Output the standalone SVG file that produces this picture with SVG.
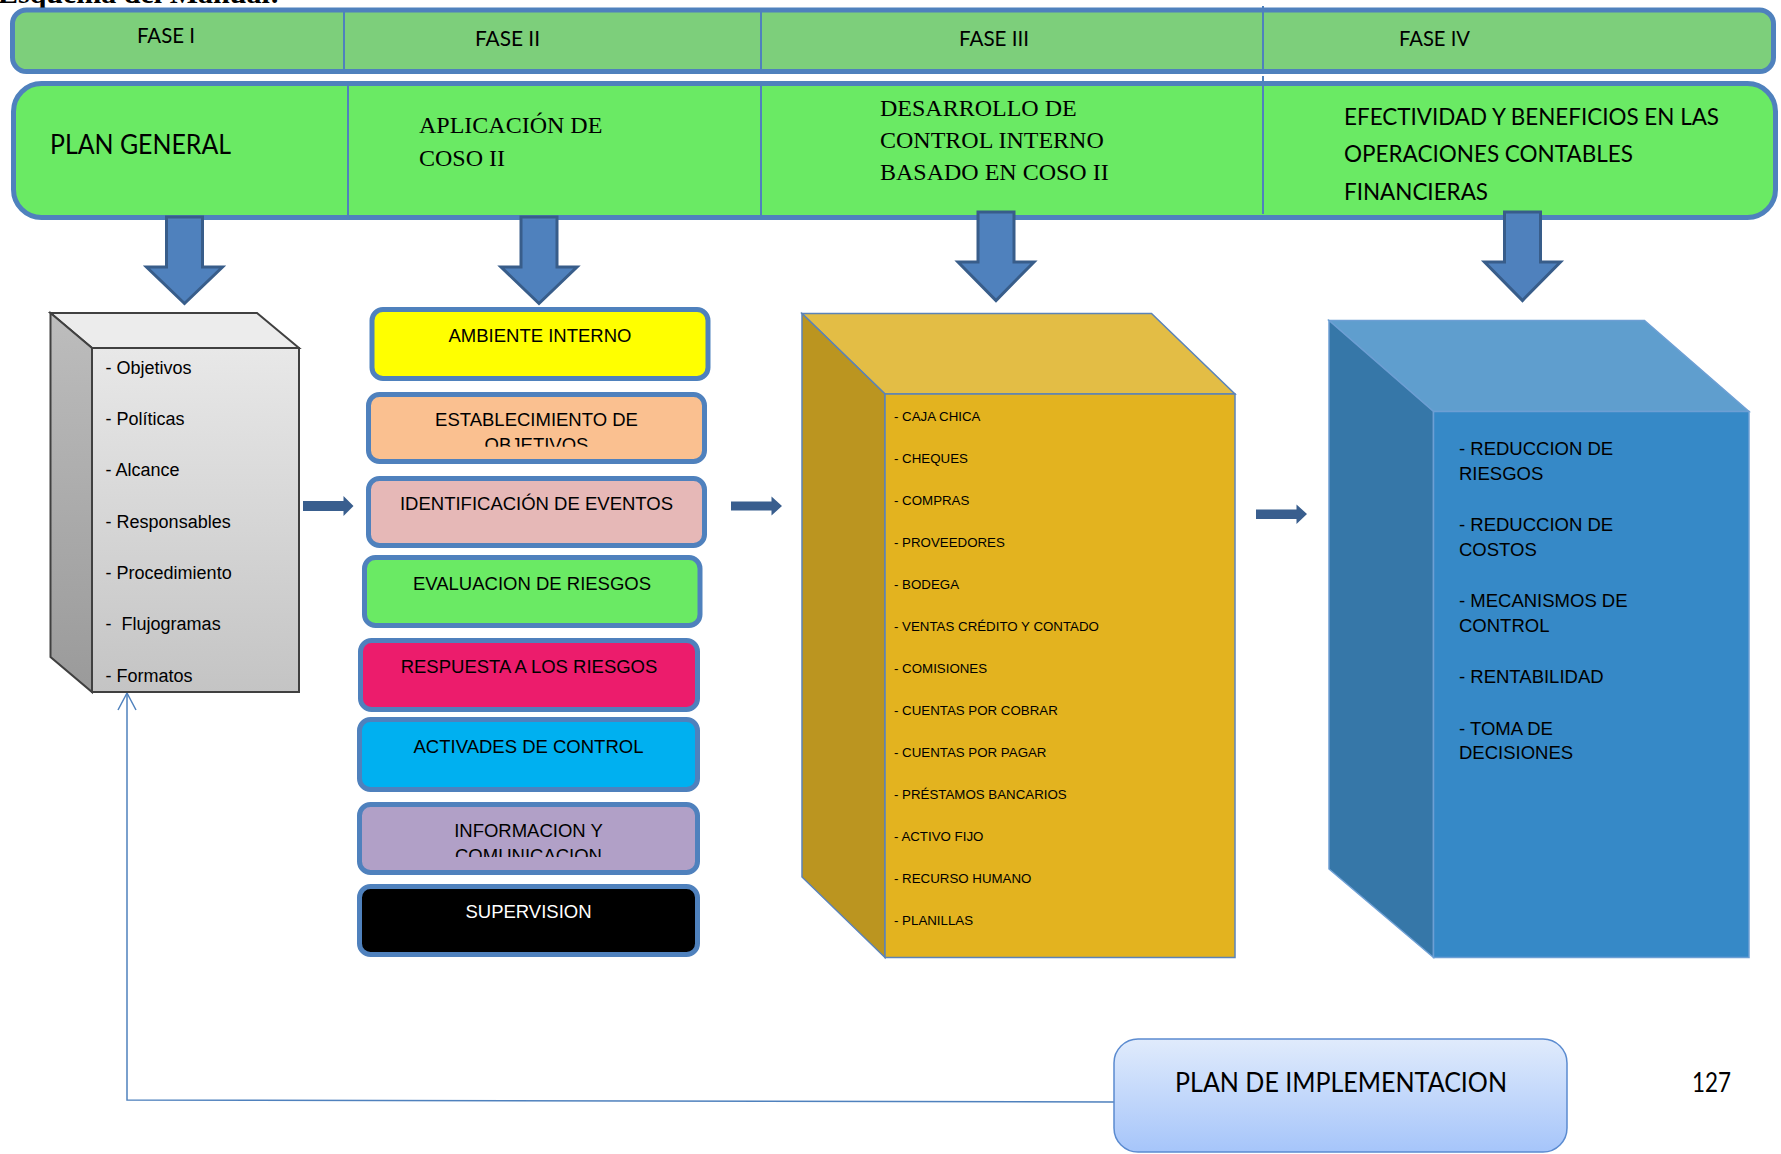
<svg xmlns="http://www.w3.org/2000/svg" width="1781" height="1154" viewBox="0 0 1781 1154">
<style>
.cal{font-family:Lato,"Open Sans",sans-serif;fill:#000}
.tnr{font-family:"Liberation Serif","Times New Roman",serif;fill:#000}
.ar{font-family:"Liberation Sans",Arial,sans-serif;fill:#000}
.bar{stroke:#4f81bd;stroke-width:5}
.div{stroke:#4f81bd;stroke-width:2}
.dn{fill:#4f81bd;stroke:#385d8a;stroke-width:3;stroke-linejoin:miter}
.rt{fill:#395e8e}
.cb{stroke:#4f81bd;stroke-width:5}
.ct{font-family:"Liberation Sans",Arial,sans-serif;font-size:18.5px;text-anchor:middle;fill:#000}
.gi{font-family:"Liberation Sans",Arial,sans-serif;font-size:18px;fill:#000}
.yi{font-family:"Liberation Sans",Arial,sans-serif;font-size:13.3px;fill:#000}
.bi{font-family:"Liberation Sans",Arial,sans-serif;font-size:18.5px;fill:#000}
</style>
<defs>
<linearGradient id="gFront" x1="0" y1="0" x2="0" y2="1"><stop offset="0" stop-color="#e8e8e8"/><stop offset="1" stop-color="#c4c4c4"/></linearGradient>
<linearGradient id="gSide" x1="0" y1="0" x2="0" y2="1"><stop offset="0" stop-color="#bdbdbd"/><stop offset="1" stop-color="#9a9a9a"/></linearGradient>
<linearGradient id="gPlan" x1="0" y1="0" x2="0" y2="1"><stop offset="0" stop-color="#e0ebfc"/><stop offset="1" stop-color="#a6c5fa"/></linearGradient>
<marker id="open" markerUnits="userSpaceOnUse" markerWidth="22" markerHeight="22" viewBox="-19 -11 22 22" refX="0" refY="0" orient="auto"><path d="M-17,-9 L0,0 L-17,9" fill="none" stroke="#4f81bd" stroke-width="1.5"/></marker>
<clipPath id="clip2"><rect x="366" y="392" width="341" height="54.7"/></clipPath>
<clipPath id="clip7"><rect x="357" y="802" width="343" height="55"/></clipPath>
</defs>

<text class="tnr" x="-2" y="3" font-size="30" font-weight="bold">Esquema del Manual:</text>

<g id="phase-header">
<rect class="bar" x="12.5" y="10" width="1761" height="61.5" rx="14" fill="#7dcf7b"/>
<line class="div" x1="344" y1="12" x2="344" y2="70"/>
<line class="div" x1="761" y1="12" x2="761" y2="70"/>
<line class="div" x1="1263" y1="6" x2="1263" y2="70"/>
<text class="cal" x="137" y="43" font-size="21" textLength="58" lengthAdjust="spacingAndGlyphs">FASE I</text>
<text class="cal" x="475" y="46" font-size="21" textLength="65" lengthAdjust="spacingAndGlyphs">FASE II</text>
<text class="cal" x="959" y="46" font-size="21" textLength="70" lengthAdjust="spacingAndGlyphs">FASE III</text>
<text class="cal" x="1399" y="46" font-size="21" textLength="71" lengthAdjust="spacingAndGlyphs">FASE IV</text>
</g>

<g id="phase-titles">
<rect class="bar" x="13.5" y="83.5" width="1762" height="134" rx="28" fill="#6aea64"/>
<line class="div" x1="348" y1="85" x2="348" y2="216"/>
<line class="div" x1="761" y1="85" x2="761" y2="216"/>
<line class="div" x1="1263" y1="76" x2="1263" y2="214"/>
<text class="cal" x="50" y="154" font-size="26" textLength="181" lengthAdjust="spacingAndGlyphs">PLAN GENERAL</text>
<text class="tnr" x="419" y="133" font-size="24">APLICACIÓN DE</text>
<text class="tnr" x="419" y="166" font-size="24">COSO II</text>
<text class="tnr" x="880" y="116" font-size="24">DESARROLLO DE</text>
<text class="tnr" x="880" y="148" font-size="24">CONTROL INTERNO</text>
<text class="tnr" x="880" y="180" font-size="24">BASADO EN COSO II</text>
<text class="cal" x="1344" y="125" font-size="24" textLength="375" lengthAdjust="spacingAndGlyphs">EFECTIVIDAD Y BENEFICIOS EN LAS</text>
<text class="cal" x="1344" y="162" font-size="24" textLength="289" lengthAdjust="spacingAndGlyphs">OPERACIONES CONTABLES</text>
<text class="cal" x="1344" y="200" font-size="24" textLength="144" lengthAdjust="spacingAndGlyphs">FINANCIERAS</text>
</g>

<g id="connectors">
<polygon class="dn" points="166.5,217 202.5,217 202.5,267 222.5,267 184.5,303.5 146.5,267 166.5,267"/>
<polygon class="dn" points="521,217 557,217 557,267 577,267 539,303.5 501,267 521,267"/>
<polygon class="dn" points="978,212 1014,212 1014,262 1034,262 996,300.5 958,262 978,262"/>
<polygon class="dn" points="1504.5,212 1540.5,212 1540.5,262 1560.5,262 1522.5,300.5 1484.5,262 1504.5,262"/>
<polygon class="rt" points="303,501 343.5,501 343.5,496 353.5,506 343.5,516 343.5,511 303,511"/>
<polygon class="rt" points="731,501.5 771.5,501.5 771.5,496.5 782,506 771.5,515.5 771.5,510.5 731,510.5"/>
<polygon class="rt" points="1256,509.5 1296.5,509.5 1296.5,504.5 1307,514 1296.5,524 1296.5,519 1256,519"/>
<polyline points="1114,1102 127,1100 127,693" fill="none" stroke="#4f81bd" stroke-width="1.5" marker-end="url(#open)"/>
</g>

<g id="fase1-box">
<polygon points="50.5,313 257,313 299,348 92,348" fill="#ececec" stroke="#404040" stroke-width="2"/>
<polygon points="50.5,313 92,348 92,692 50.5,657" fill="url(#gSide)" stroke="#404040" stroke-width="2"/>
<rect x="92" y="348" width="207" height="344" fill="url(#gFront)" stroke="#404040" stroke-width="2"/>
<text class="gi" x="105.6" y="374">- Objetivos</text>
<text class="gi" x="105.6" y="425">- Políticas</text>
<text class="gi" x="105.6" y="476">- Alcance</text>
<text class="gi" x="105.6" y="528">- Responsables</text>
<text class="gi" x="105.6" y="579">- Procedimiento</text>
<text class="gi" x="105.6" y="630">- &#160;Flujogramas</text>
<text class="gi" x="105.6" y="682">- Formatos</text>
</g>

<g id="coso-ambiente">
<rect class="cb" x="372" y="309.5" width="336" height="69" rx="11" fill="#ffff00"/>
<text class="ct" x="540" y="341.7">AMBIENTE INTERNO</text>
</g>
<g id="coso-objetivos">
<rect class="cb" x="368.5" y="394.5" width="336" height="67" rx="11" fill="#fac090"/>
<g clip-path="url(#clip2)">
<text class="ct" x="536.5" y="426">ESTABLECIMIENTO DE</text>
<text class="ct" x="536.5" y="450.5">OBJETIVOS</text>
</g>
</g>
<g id="coso-eventos">
<rect class="cb" x="368.5" y="478.5" width="336" height="67" rx="11" fill="#e6b8b7"/>
<text class="ct" x="536.5" y="510">IDENTIFICACIÓN DE EVENTOS</text>
</g>
<g id="coso-evaluacion">
<rect class="cb" x="364.5" y="557.5" width="335.5" height="68" rx="11" fill="#6aea64"/>
<text class="ct" x="532" y="590">EVALUACION DE RIESGOS</text>
</g>
<g id="coso-respuesta">
<rect class="cb" x="360.5" y="640.5" width="337" height="69" rx="11" fill="#ec1c6c"/>
<text class="ct" x="529" y="672.7">RESPUESTA A LOS RIESGOS</text>
</g>
<g id="coso-actividades">
<rect class="cb" x="359.5" y="719.5" width="338" height="70" rx="11" fill="#00b0f0"/>
<text class="ct" x="528.5" y="752.7">ACTIVADES DE CONTROL</text>
</g>
<g id="coso-informacion">
<rect class="cb" x="359.5" y="804.5" width="338" height="68" rx="11" fill="#b1a0c7"/>
<g clip-path="url(#clip7)">
<text class="ct" x="528.5" y="836.7">INFORMACION Y</text>
<text class="ct" x="528.5" y="862.3">COMUNICACION</text>
</g>
</g>
<g id="coso-supervision">
<rect class="cb" x="359.5" y="886.5" width="338" height="68" rx="11" fill="#000000"/>
<text class="ct" x="528.5" y="918" style="fill:#ffffff">SUPERVISION</text>
</g>

<g id="fase3-box">
<polygon points="802,313.5 1151.5,313.5 1235,394 885,394" fill="#e3bd45" stroke="#5b83b8" stroke-width="1.5"/>
<polygon points="802,313.5 885,394 885,957.5 802,877" fill="#bb9520" stroke="#5b83b8" stroke-width="1.5"/>
<rect x="885" y="394" width="350" height="563.5" fill="#e3b31f" stroke="#5b83b8" stroke-width="1.5"/>
<text class="yi" x="894" y="421">- CAJA CHICA</text>
<text class="yi" x="894" y="463">- CHEQUES</text>
<text class="yi" x="894" y="505">- COMPRAS</text>
<text class="yi" x="894" y="547">- PROVEEDORES</text>
<text class="yi" x="894" y="589">- BODEGA</text>
<text class="yi" x="894" y="631">- VENTAS CRÉDITO Y CONTADO</text>
<text class="yi" x="894" y="673">- COMISIONES</text>
<text class="yi" x="894" y="715">- CUENTAS POR COBRAR</text>
<text class="yi" x="894" y="757">- CUENTAS POR PAGAR</text>
<text class="yi" x="894" y="799">- PRÉSTAMOS BANCARIOS</text>
<text class="yi" x="894" y="841">- ACTIVO FIJO</text>
<text class="yi" x="894" y="883">- RECURSO HUMANO</text>
<text class="yi" x="894" y="925">- PLANILLAS</text>
</g>

<g id="fase4-box">
<polygon points="1329,320.5 1644.5,320.5 1749,411.5 1433.5,411.5" fill="#5f9ece" stroke="#6d9fd4" stroke-width="1.5"/>
<polygon points="1329,320.5 1433.5,411.5 1433.5,957.5 1329,869" fill="#3677a8" stroke="#6d9fd4" stroke-width="1.5"/>
<rect x="1433.5" y="411.5" width="315.5" height="546" fill="#3689c7" stroke="#6d9fd4" stroke-width="1.5"/>
<text class="bi" x="1459" y="455.4">- REDUCCION DE</text>
<text class="bi" x="1459" y="480.1">RIESGOS</text>
<text class="bi" x="1459" y="531.3">- REDUCCION DE</text>
<text class="bi" x="1459" y="556">COSTOS</text>
<text class="bi" x="1459" y="607.3">- MECANISMOS DE</text>
<text class="bi" x="1459" y="632">CONTROL</text>
<text class="bi" x="1459" y="683.2">- RENTABILIDAD</text>
<text class="bi" x="1459" y="735.3">- TOMA DE</text>
<text class="bi" x="1459" y="759.2">DECISIONES</text>
</g>

<g id="plan-implementacion">
<rect x="1114" y="1039" width="453" height="113" rx="24" fill="url(#gPlan)" stroke="#5b8bd0" stroke-width="1.5"/>
<text class="cal" x="1175" y="1092" font-size="26" textLength="332" lengthAdjust="spacingAndGlyphs">PLAN DE IMPLEMENTACION</text>
</g>

<text class="cal" x="1692" y="1092" font-size="26" textLength="39" lengthAdjust="spacingAndGlyphs">127</text>
</svg>
